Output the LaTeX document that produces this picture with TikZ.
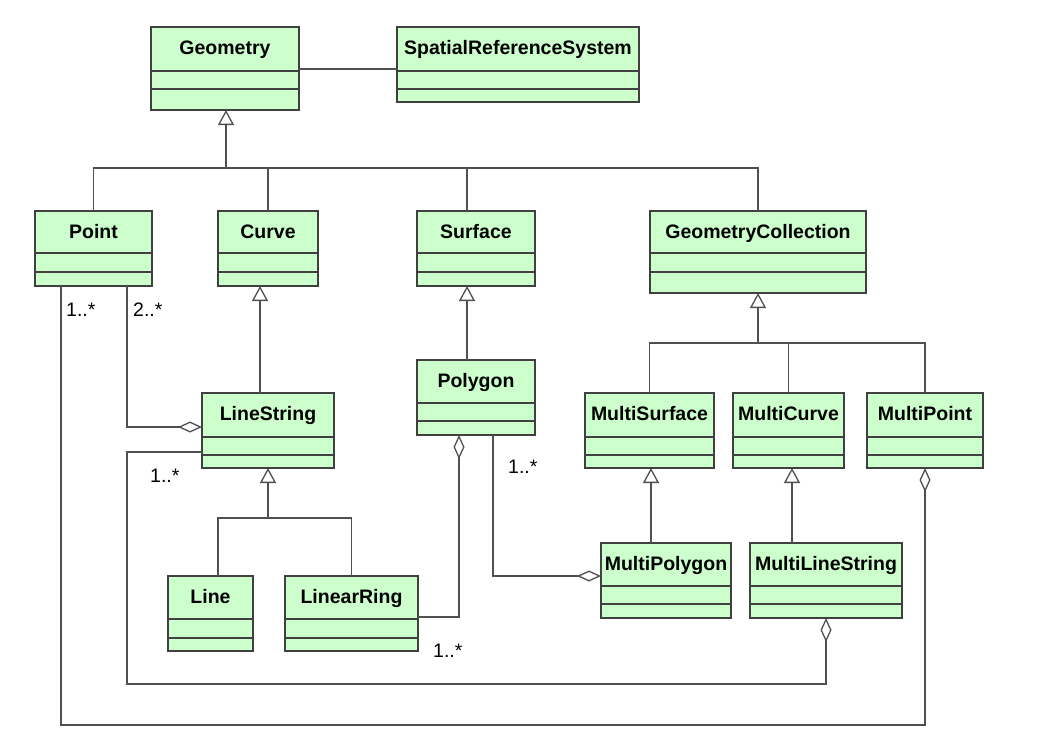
\documentclass[tikz,border=0pt]{standalone}
\usepackage{fontspec}
\setmainfont{Liberation Sans}
\usetikzlibrary{arrows.meta,calc}
\definecolor{clsfill}{HTML}{CCFFCC}
\definecolor{edgecol}{HTML}{505050}
\definecolor{bordercol}{HTML}{404040}
% name, x1, y1, x2, y2, divider1, divider2, title
\newcommand\umlclass[8]{%
  \node[cls, minimum width={#4-#2}, minimum height={#5-#3}] (#1) at ({(#2+#4)/2},{(#3+#5)/2}) {};
  \draw[divline] (#2,#6) -- (#4,#6);
  \draw[divline] (#2,#7) -- (#4,#7);
  \node[clstitle] (#1-t) at ({(#2+#4)/2},{#3+27.5}) {#8};
}
\begin{document}
\begin{tikzpicture}[x=1pt,y=-1pt,
  cls/.style={draw=bordercol, fill=clsfill, line width=1.3pt, inner sep=0pt, outer sep=0pt, rectangle},
  divline/.style={draw=bordercol, line width=1.3pt},
  clstitle/.style={font=\bfseries\fontsize{19.5}{19.5}\selectfont, inner sep=0pt, anchor=base},
  conn/.style={draw=edgecol, line width=1.3pt},
  gen/.style={conn, -{Triangle[fill=white, length=15pt, width=16pt]}},
  agg/.style={conn, -{Diamond[fill=white, length=24pt, width=11pt]}},
  mult/.style={font=\fontsize{19.5}{19.5}\selectfont, inner sep=0pt, anchor=base west}
]
\fill[white] (0,0) rectangle (1056,748);
\useasboundingbox (0,0) rectangle (1056,748);

\umlclass{Geometry}{151}{27}{299}{110}{71}{89}{Geometry}
\umlclass{SRS}{397}{27}{639}{102}{71}{89}{SpatialReferenceSystem}
\umlclass{Point}{35}{211}{152}{286}{253}{272}{Point}
\umlclass{Curve}{218}{211}{318}{286}{253}{272}{Curve}
\umlclass{Surface}{417}{211}{535}{286}{253}{272}{Surface}
\umlclass{GC}{650}{211}{866}{293}{253}{272}{GeometryCollection}
\umlclass{LineString}{202}{393}{334}{468}{437}{455}{LineString}
\umlclass{Polygon}{417}{360}{535}{435}{403}{421}{Polygon}
\umlclass{MultiSurface}{585}{393}{714}{468}{437}{455}{MultiSurface}
\umlclass{MultiCurve}{733}{393}{844}{468}{437}{455}{MultiCurve}
\umlclass{MultiPoint}{867}{393}{983}{468}{437}{455}{MultiPoint}
\umlclass{Line}{168}{576}{253}{651}{619}{638}{Line}
\umlclass{LinearRing}{285}{576}{418}{651}{619}{638}{LinearRing}
\umlclass{MultiPolygon}{601}{543}{731}{618}{586}{604}{MultiPolygon}
\umlclass{MultiLineString}{750}{543}{902}{618}{586}{604}{MultiLineString}

% association Geometry - SRS
\draw[conn] ($(Geometry.east)+(0,0.5)$) coordinate (ga) -- (ga -| SRS.west);

% generalization to Geometry
\coordinate (gj) at ($(Geometry.south)+(1,58)$);
\draw[conn] (Point.north) |- (gj);
\draw[conn] (Curve.north) |- (gj);
\draw[conn] ($(Surface.north)+(-9,0)$) |- (gj);
\draw[conn] (GC.north) |- (gj);
\draw[gen] (gj) -- ($(Geometry.south)+(1,0)$);

% LineString -> Curve
\draw[gen] ($(LineString.north)+(-8,0)$) -- ($(Curve.south)+(-8,0)$);
% Polygon -> Surface
\draw[gen] ($(Polygon.north)+(-9,0)$) -- ($(Surface.south)+(-9,0)$);

% generalization to GeometryCollection
\coordinate (cj) at ($(GC.south)+(0,50)$);
\draw[conn] (MultiSurface.north) |- (cj);
\draw[conn] (MultiCurve.north) |- (cj);
\draw[conn] (MultiPoint.north) |- (cj);
\draw[gen] (cj) -- (GC.south);

% generalization to LineString
\coordinate (lj) at ($(LineString.south)+(0,50)$);
\draw[conn] ($(Line.north)+(7.5,0)$) |- (lj);
\draw[conn] (LinearRing.north) |- (lj);
\draw[gen] (lj) -- (LineString.south);

% MultiPolygon -> MultiSurface, MultiLineString -> MultiCurve
\draw[gen] ($(MultiSurface.south |- MultiPolygon.north)+(1.5,0)$) -- ($(MultiSurface.south)+(1.5,0)$);
\draw[gen] ($(MultiCurve.south |- MultiLineString.north)+(3.5,0)$) -- ($(MultiCurve.south)+(3.5,0)$);

% aggregations
\draw[agg] ($(Point.south)+(33.5,0)$) |- ($(LineString.west)+(0,-3.5)$);
\draw[agg] ($(Point.south)+(-32.5,0)$) -- ++(0,439) -| (MultiPoint.south);
\draw[agg] ($(LineString.west)+(0,21.5)$) -- ++(-75,0) |- ($(MultiLineString.south)+(0,66)$) -- (MultiLineString.south);
\draw[agg] ($(LinearRing.east)+(0,3.5)$) -| ($(Polygon.south)+(-17,0)$);
\draw[agg] ($(Polygon.south)+(17,0)$) |- ($(MultiPolygon.west)+(0,-4.5)$);

% multiplicities
\node[mult] (m1) at (66,316) {1..*};
\node[mult] (m2) at (133,316) {2..*};
\node[mult] (m3) at (150,482) {1..*};
\node[mult] (m4) at (508,473) {1..*};
\node[mult] (m5) at (433,657) {1..*};
\end{tikzpicture}
\end{document}
